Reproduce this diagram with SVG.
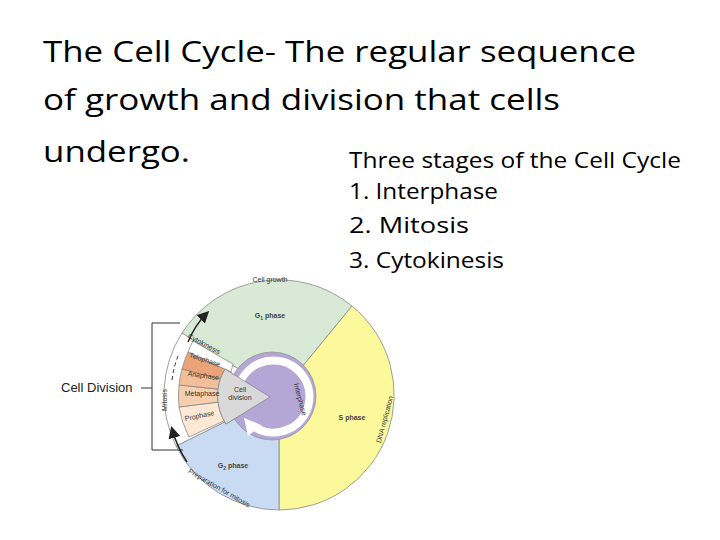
<svg xmlns="http://www.w3.org/2000/svg" width="720" height="540" viewBox="0 0 720 540">
<style>
.t{font-family:"Open Sans","Liberation Sans",sans-serif;fill:#000}
.s{font-family:"Liberation Sans",sans-serif;fill:#333}
.e{stroke:#888;stroke-width:0.8}
</style>
<defs><marker id="ah" markerWidth="8" markerHeight="8" refX="6" refY="4" orient="auto"><path d="M0,0L8,4L0,8z" fill="#222"/></marker></defs>
<rect width="720" height="540" fill="#fff"/>
<g id="title" class="t">
<text x="43" y="62" font-size="30" textLength="593" lengthAdjust="spacingAndGlyphs">The Cell Cycle- The regular sequence</text>
<text x="43" y="110" font-size="30" textLength="517" lengthAdjust="spacingAndGlyphs">of growth and division that cells</text>
<text x="43" y="162" font-size="30" textLength="147" lengthAdjust="spacingAndGlyphs">undergo.</text>
<text x="349" y="168" font-size="21" textLength="332" lengthAdjust="spacingAndGlyphs">Three stages of the Cell Cycle</text>
<text x="349" y="199" font-size="21" textLength="149" lengthAdjust="spacingAndGlyphs">1. Interphase</text>
<text x="349" y="233" font-size="21" textLength="120" lengthAdjust="spacingAndGlyphs">2. Mitosis</text>
<text x="349" y="268" font-size="21" textLength="155" lengthAdjust="spacingAndGlyphs">3. Cytokinesis</text>
</g>
<g id="cycle">
<path class="e" d="M279,395L182,333A115,115 0 0 1 352,306Z" fill="#d8e9d5"/>
<path class="e" d="M279,395L352,306A115,115 0 0 1 279,510Z" fill="#fbf99c"/>
<path class="e" d="M279,395L279,510A115,115 0 0 1 176,446Z" fill="#c8dbf3"/>
<path class="e" d="M279,395L176,446A115,115 0 0 1 182,333Z" fill="#fff"/>
<path class="e" d="M228,419L189,437A101,101 0 0 1 179,407L227,401Z" fill="#fde8d6"/>
<path class="e" d="M227,401L179,407A101,101 0 0 1 179,385L227,390Z" fill="#f6cfae"/>
<path class="e" d="M227,390L179,385A101,101 0 0 1 182,369L228,381Z" fill="#f2bf98"/>
<path class="e" d="M228,381L182,369A101,101 0 0 1 188,352L231,372Z" fill="#eaa477"/>
<path class="e" d="M231,372L188,352A101,101 0 0 1 193,341L233,364Z" fill="#fff"/>
<path class="e" d="M270,397L225,369A52,52 0 0 0 226,424Z" fill="#d9d9d9"/>
<circle cx="272" cy="396" r="44" fill="#b4a6d5" stroke="#888" stroke-width="0.6"/>
<path d="M242,414A36,36 0 1 1 256,428" fill="none" stroke="#fff" stroke-width="8"/>
<path d="M262,425L248,436L244,418Z" fill="#fff"/>
<circle cx="272" cy="396" r="31" fill="#b4a6d5"/>
<path d="M270,397L225,369A52,52 0 0 0 226,424Z" fill="#d9d9d9" stroke="#888" stroke-width="0.8"/>
</g>
<g id="labels" class="s" font-size="7">
<text x="270" y="282" text-anchor="middle">Cell growth</text>
<text x="270" y="318" text-anchor="middle" font-weight="bold" fill="#444">G<tspan font-size="5" dy="2">1</tspan><tspan dy="-2"> phase</tspan></text>
<text x="352" y="420" text-anchor="middle" font-weight="bold" fill="#444">S phase</text>
<text x="233" y="468" text-anchor="middle" font-weight="bold" fill="#444">G<tspan font-size="5" dy="2">2</tspan><tspan dy="-2"> phase</tspan></text>
<text x="240" y="392" text-anchor="middle">Cell</text>
<text x="240" y="400" text-anchor="middle">division</text>
<text transform="translate(298,400) rotate(75)" text-anchor="middle">Interphase</text>
<text transform="translate(387,420) rotate(-75)" text-anchor="middle">DNA replication</text>
<text transform="translate(218,490) rotate(30)" text-anchor="middle">Preparation for mitosis</text>
<text transform="translate(167,400) rotate(-90)" text-anchor="middle">Mitosis</text>
<text transform="translate(203,346) rotate(28)" text-anchor="middle">Cytokinesis</text>
<text transform="translate(204,362) rotate(18)" text-anchor="middle">Telophase</text>
<text transform="translate(203,378) rotate(8)" text-anchor="middle">Anaphase</text>
<text transform="translate(202,396)" text-anchor="middle">Metaphase</text>
<text transform="translate(200,418) rotate(-12)" text-anchor="middle">Prophase</text>
<text x="61" y="392" font-size="13" fill="#222">Cell Division</text>
</g>
<g id="connectors" fill="none" stroke="#333" stroke-width="1">
<path d="M141,388H152M180,323H152V450H183"/>
<path d="M188,342Q195,325 207,313" stroke="#222" stroke-width="1.5" marker-end="url(#ah)"/>
<path d="M187,462Q177,447 172,429" stroke="#222" stroke-width="1.5" marker-end="url(#ah)"/>
<path d="M172,380A100,100 0 0 1 178,356" stroke-dasharray="4,3"/>
</g>
</svg>
